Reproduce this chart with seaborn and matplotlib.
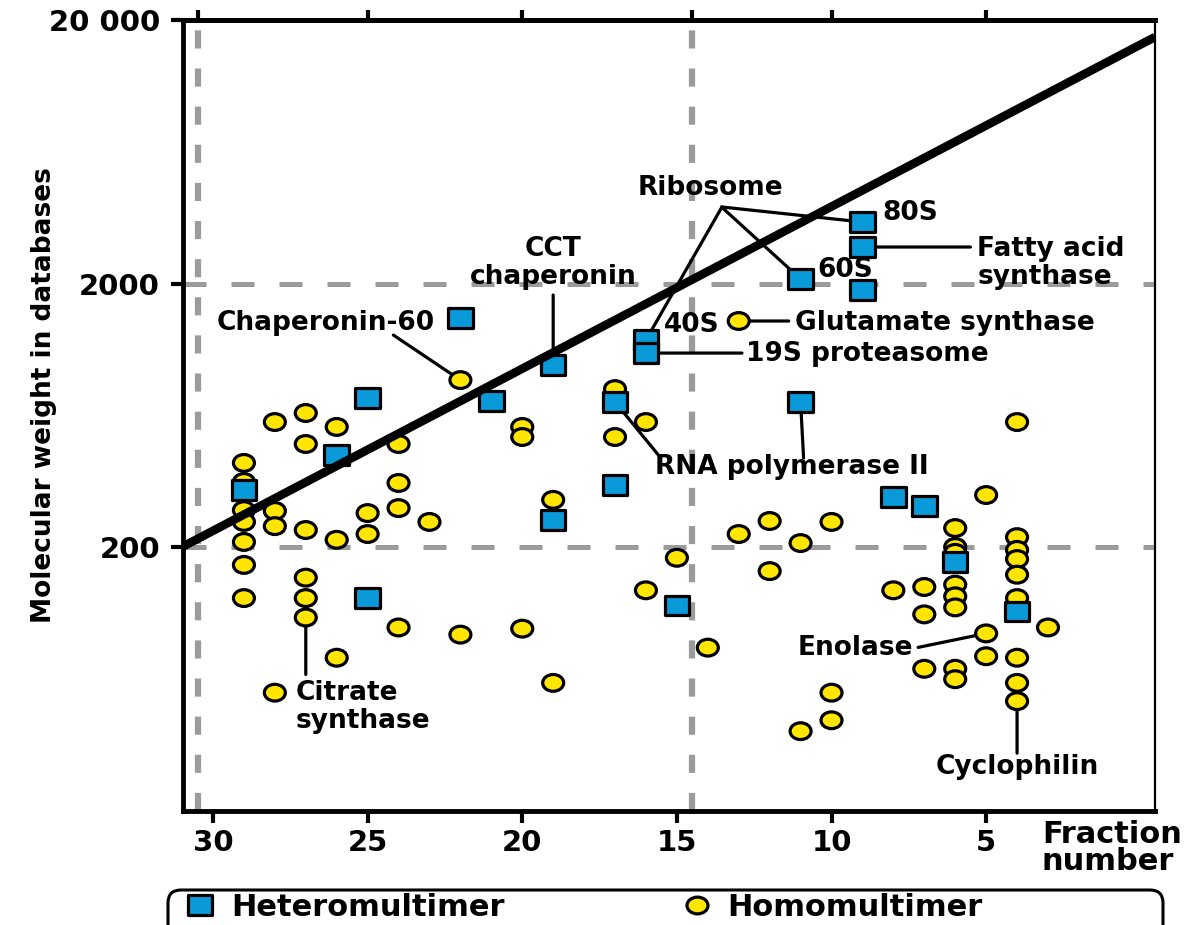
import numpy as np
import pandas as pd
import matplotlib
matplotlib.use("Agg")
import matplotlib.pyplot as plt
import seaborn as sns
from matplotlib.path import Path
from matplotlib.patches import FancyBboxPatch
from matplotlib.lines import Line2D
from matplotlib.ticker import NullLocator
from matplotlib.transforms import IdentityTransform

sns.set_style("ticks")
plt.rcParams["font.family"] = ["DejaVu Sans"]
plt.rcParams["font.weight"] = "bold"
plt.rcParams["text.color"] = "black"
plt.rcParams["axes.labelcolor"] = "black"
plt.rcParams["xtick.color"] = "black"
plt.rcParams["ytick.color"] = "black"
plt.rcParams["xtick.labelcolor"] = "black"
plt.rcParams["ytick.labelcolor"] = "black"

# ---------------- data ----------------
hetero_fraction = [29, 26, 25, 22, 21, 19, 19, 25, 17, 17, 16, 16, 15, 11, 11, 9, 9, 9, 8, 7, 6, 4]
hetero_mw = [329, 447, 735, 1480, 716, 981, 253, 128, 344, 710, 1221, 1089, 120, 2080, 710,
             3422, 2751, 1889, 310, 286, 175, 114]

homo_fraction = [29, 29, 29, 29, 29, 29, 29,
                 28, 28, 28, 28,
                 27, 27, 27, 27, 27, 27,
                 26, 26, 26,
                 25, 25,
                 24, 24, 24, 24,
                 23,
                 22, 22,
                 20, 20, 20,
                 19, 19,
                 17, 17,
                 16, 16,
                 15,
                 14,
                 13, 13,
                 12, 12,
                 11, 11,
                 10, 10, 10,
                 8,
                 7, 7, 7,
                 6, 6, 6, 6, 6, 6, 6, 6,
                 5, 5, 5,
                 4, 4, 4, 4, 4, 4, 4, 4, 4,
                 3]
homo_mw = [417, 353, 276, 249, 209, 171, 128,
           596, 274, 240, 56,
           645, 492, 232, 153, 128, 108,
           571, 213, 76,
           269, 224,
           492, 350, 281, 99,
           249,
           860, 93,
           571, 523, 98,
           302, 61,
           795, 523,
           596, 137,
           182,
           83,
           1441, 224,
           251, 162,
           207, 40,
           249, 56, 44,
           137,
           141, 111, 69,
           236, 200, 190, 144, 130, 118, 69, 63,
           315, 94, 77,
           596, 218, 195, 180, 157, 128, 76, 61, 52,
           99]

fit_fraction = [31.0, -0.46]
fit_mw = [200, 17240]

vline_fraction = [30.5, 14.5]
hline_mw = [2000, 200]

x_ticks = [30, 25, 20, 15, 10, 5]
x_ticklabels = ["30", "25", "20", "15", "10", "5"]
top_ticks = [30.5, 25, 20, 14.5, 10, 5]
y_ticks = [200, 2000, 20000]
y_ticklabels = ["200", "2000", "20 000"]
legend_labels = ["Heteromultimer", "Homomultimer"]

# ---------------- figure ----------------
W, H = 1201, 925
PX = 0.72  # points per pixel at dpi 100
BLUE = "#0a9ad9"
YELLOW = "#ffe500"
GRAY = "#9b9b9b"

fig = plt.figure(figsize=(W / 100, H / 100), dpi=100)
ax = fig.add_axes([183 / W, 1 - 810.5 / H, 972 / W, 790.5 / H])

rect = Path([(-1, -0.8), (1, -0.8), (1, 0.8), (-1, 0.8), (-1, -0.8)],
            [Path.MOVETO, Path.LINETO, Path.LINETO, Path.LINETO, Path.CLOSEPOLY])
circ = Path.unit_circle()
ell = Path(circ.vertices * np.array([1.0, 0.8]), circ.codes)

df = pd.DataFrame({
    "fraction": homo_fraction + hetero_fraction,
    "mw": homo_mw + hetero_mw,
    "type": [legend_labels[1]] * len(homo_fraction) + [legend_labels[0]] * len(hetero_fraction),
})

ax.set_yscale("log")

for f in vline_fraction:
    ax.axvline(f, color=GRAY, lw=4.5, dashes=(2.9, 3.2), zorder=1)
for m in hline_mw:
    ax.axhline(m, color=GRAY, lw=3.6, dashes=(4.6, 5.0), zorder=1)

sns.scatterplot(data=df, x="fraction", y="mw", hue="type", style="type", size="type",
                palette={legend_labels[0]: BLUE, legend_labels[1]: YELLOW},
                markers={legend_labels[0]: rect, legend_labels[1]: ell},
                sizes={legend_labels[0]: 310, legend_labels[1]: 228},
                edgecolor="black", linewidth=2.3, legend=False, zorder=3, ax=ax)

sns.lineplot(x=fit_fraction, y=fit_mw, color="black", lw=6.2, sort=False,
             zorder=4, ax=ax, solid_capstyle="butt")

ax.set_xlim(30.97, -0.46)
ax.set_ylim(20, 20000)
ax.set_xlabel("")

ax.set_xticks(x_ticks)
ax.set_xticklabels(x_ticklabels)
ax.set_yticks(y_ticks)
ax.set_yticklabels(y_ticklabels)
ax.xaxis.set_minor_locator(NullLocator())
ax.yaxis.set_minor_locator(NullLocator())
ax.tick_params(axis="both", which="major", direction="out", length=8.6, width=3,
               labelsize=21, color="black", labelcolor="black")
ax.tick_params(axis="x", pad=5)
ax.tick_params(axis="y", pad=8)

for s in ["left", "bottom", "top"]:
    ax.spines[s].set_linewidth(3.5)
    ax.spines[s].set_color("black")
ax.spines["right"].set_linewidth(1.6)
ax.spines["right"].set_color("black")

sec = ax.secondary_xaxis("top")
sec.set_xticks(top_ticks)
sec.set_xticklabels([])
sec.tick_params(direction="out", length=7, width=3, color="black")
sec.spines["top"].set_linewidth(3.5)
sec.spines["top"].set_color("black")

ax.set_ylabel("Molecular weight in databases", fontsize=19, fontweight="bold", color="black")
ax.yaxis.set_label_coords(-0.143, 0.5256)
ax.yaxis.label.set_va("center")

fig.text(1042 / W, 1 - 848 / H, "Fraction\nnumber", ha="left", va="center",
         fontsize=22, fontweight="bold", linespacing=0.95, color="black")

# ---------------- annotations ----------------
def het(i):
    return (hetero_fraction[i], hetero_mw[i])


def hom(i):
    return (homo_fraction[i], homo_mw[i])


def leader(pt, dx, dy):
    ax.annotate("", xy=pt, xytext=(dx * PX, -dy * PX), textcoords="offset points",
                arrowprops=dict(arrowstyle="-", color="black", lw=2.3,
                                shrinkA=0, shrinkB=0), zorder=2)


def label(pt, dx, dy, text, ha="left", ls=1.1):
    ax.annotate(text, xy=pt, xytext=(dx * PX, -dy * PX), textcoords="offset points",
                ha=ha, va="center", fontsize=19, fontweight="bold", zorder=5,
                linespacing=ls, multialignment=ha, color="black")


# Ribosome
leader(het(15), -140, -15)
leader(het(13), -79, -72)
leader(het(10), 76, -133)
label(het(13), -90, -91, "Ribosome", ha="center")
label(het(15), 20, -9, "80S")
label(het(13), 17, -9, "60S")
label(het(10), 18, -15, "40S")
# Fatty acid synthase
leader(het(16), 108, 0)
label(het(16), 115, 16, "Fatty acid\nsynthase")
# 19S proteasome
leader(het(11), 96, 0)
label(het(11), 100, 1, "19S proteasome")
# Glutamate synthase
leader(hom(40), 50, 0)
label(hom(40), 56, 2, "Glutamate synthase")
# CCT chaperonin
leader(het(5), 0, -70)
label(het(5), 0, -102, "CCT\nchaperonin", ha="center")
# Chaperonin-60
leader(hom(27), -67, -45)
label(hom(27), -135, -57, "Chaperonin-60", ha="center")
# RNA polymerase II
leader(het(9), 45, 55)
leader(het(14), 3, 56)
label(het(9), 40, 65, "RNA polymerase II")
# Citrate synthase
leader(hom(16), 0, 57)
label(hom(16), -10, 89, "Citrate\nsynthase")
# Enolase
leader(hom(62), -68, 14)
label(hom(62), -73, 15, "Enolase", ha="right")
# Cyclophilin
leader(hom(72), 0, 52)
label(hom(72), 0, 66, "Cyclophilin", ha="center")

# ---------------- legend ----------------
handles = [
    Line2D([], [], ls="none", marker=rect, markersize=17.6, mfc=BLUE, mec="black", mew=2.3),
    Line2D([], [], ls="none", marker=ell, markersize=15.1, mfc=YELLOW, mec="black", mew=2.3),
]
leg = fig.legend(handles, legend_labels, loc="center left", bbox_to_anchor=(185 / W, 1 - 907 / H),
                 ncol=2, frameon=False, prop={"weight": "bold", "size": 22},
                 handlelength=1.0, handletextpad=0.5, columnspacing=5.8,
                 borderpad=0, borderaxespad=0, labelcolor="black")
box = FancyBboxPatch((168, -20), 995, 55, boxstyle="round,pad=0,rounding_size=13",
                     transform=IdentityTransform(), fill=False, lw=2.2, ec="black")
fig.add_artist(box)

fig.savefig("out.png", dpi=100)
